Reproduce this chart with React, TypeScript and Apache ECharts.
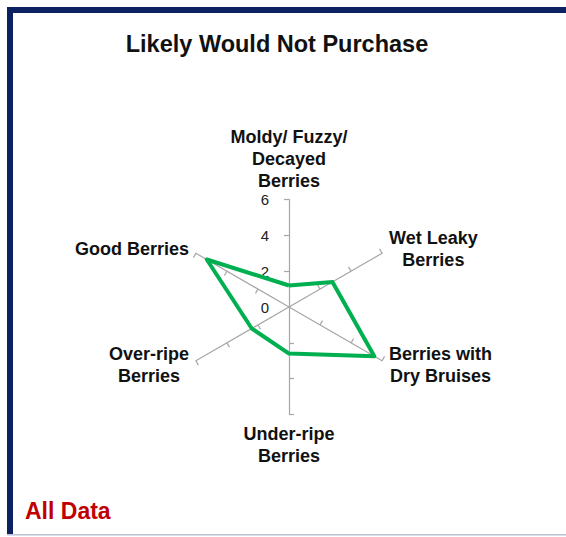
import React, { useEffect, useRef } from "react";
import * as echarts from "echarts";

// Indicators in counter-clockwise order starting at the top
const indicatorNames = [
  "Moldy/ Fuzzy/\nDecayed\nBerries",
  "Good Berries",
  "Over-ripe\nBerries",
  "Under-ripe\nBerries",
  "Berries with\nDry Bruises",
  "Wet Leaky\nBerries",
];
const values = [1.2, 5.3, 2.4, 2.6, 5.5, 2.8];
const axisMin = 0;
const axisMax = 6;
const tickInterval = 2;
const tickValues = [2, 4, 6];
const titleText = "Likely Would Not Purchase";
const footnoteText = "All Data";

const FONT = "'Liberation Sans', Arial, sans-serif";
const CX = 289;
const CY = 307;
const R = 107.5;

export default function App() {
  const ref = useRef<HTMLDivElement>(null);
  useEffect(() => {
    if (!ref.current) return;
    const chart = echarts.init(ref.current, undefined, { renderer: "svg" });
    const gridColor = "#a6a6a6";
    chart.setOption({
      animation: false,
      backgroundColor: "#ffffff",
      title: {
        text: titleText,
        left: 272,
        top: 27,
        textAlign: "center",
        textStyle: { fontFamily: FONT, fontSize: 23.5, fontWeight: "bold", color: "#111" },
      },
      graphic: [
        { type: "rect", shape: { x: 7, y: 7, width: 559, height: 6 }, style: { fill: "#0c2260" } },
        { type: "rect", shape: { x: 7, y: 7, width: 6, height: 527 }, style: { fill: "#0c2260" } },
        { type: "rect", shape: { x: 7, y: 534, width: 559, height: 1.5 }, style: { fill: "#b8c2d6" } },
        {
          type: "text",
          left: 25,
          top: 499,
          style: { text: footnoteText, font: `bold 23px ${FONT}`, fill: "#c00000" },
        },
      ],
      radar: {
        center: [CX, CY],
        radius: R,
        startAngle: 90,
        splitNumber: (axisMax - axisMin) / tickInterval,
        shape: "polygon",
        indicator: indicatorNames.map((name) => ({ name, min: axisMin, max: axisMax })),
        nameGap: 8,
        axisName: {
          formatter: (name: string) =>
            name
              .split("\n")
              .map((l) => `{n|${l}}`)
              .join("\n"),
          rich: {
            n: {
              fontFamily: FONT,
              fontSize: 18,
              fontWeight: "bold",
              color: "#111",
              align: "center",
              lineHeight: 22,
            },
          },
        },
        axisLine: { show: true, lineStyle: { color: gridColor, width: 1.2 } },
        axisTick: {
          show: true,
          length: 5,
          customValues: tickValues,
          lineStyle: { color: gridColor, width: 1.2 },
        },
        axisLabel: { show: false },
        splitLine: { show: false },
        splitArea: { show: false },
      },
      polar: { center: [CX, CY], radius: R },
      angleAxis: { type: "value", startAngle: 90, min: 0, max: 360, show: false },
      radiusAxis: {
        type: "value",
        min: axisMin,
        max: axisMax,
        interval: tickInterval,
        axisLine: { show: false },
        axisTick: { show: false },
        splitLine: { show: false },
        axisLabel: { show: true, margin: 20, fontFamily: FONT, fontSize: 15, color: "#222" },
      },
      series: [
        {
          type: "radar",
          symbol: "none",
          lineStyle: { color: "#00b050", width: 4 },
          itemStyle: { color: "#00b050" },
          data: [{ value: values, name: "All Data" }],
        },
      ],
    });
    return () => chart.dispose();
  }, []);
  return (
    <div
      ref={ref}
      style={{ position: "fixed", left: 0, top: 0, width: 566, height: 537, background: "#fff" }}
    />
  );
}
